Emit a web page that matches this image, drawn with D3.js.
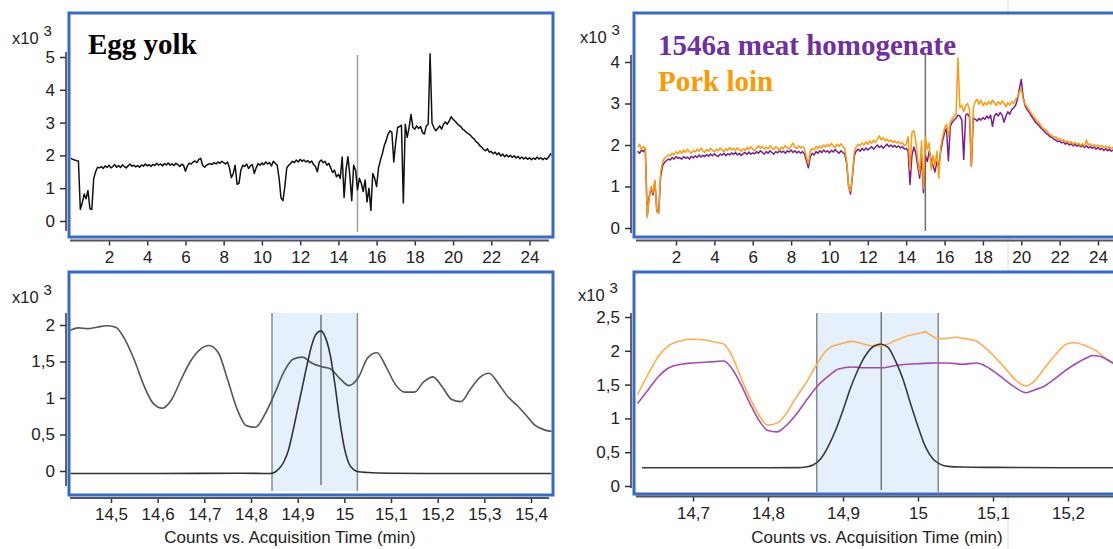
<!DOCTYPE html>
<html>
<head>
<meta charset="utf-8">
<script src="https://cdn.jsdelivr.net/npm/d3@7"></script>
<style>
  body { margin: 0; background: #ffffff; }
  svg { display: block; font-family: "Liberation Sans", Arial, sans-serif; }
</style>
</head>
<body>
<svg id="chart" width="1113" height="549"></svg>
<script>
// ---------- Full-run chromatograms (x10^3 counts), sampled every 0.1 min from 0 min ----------
const fullRunStep = 0.1;

const eggYolk = [
  1.92,1.88,1.86,1.84,1.83,0.36,0.55,0.82,0.68,0.93,
  0.38,0.35,1.30,1.50,1.64,1.62,1.66,1.60,1.68,1.63,
  1.70,1.62,1.66,1.72,1.64,1.69,1.63,1.71,1.66,1.62,
  1.68,1.74,1.67,1.70,1.65,1.69,1.64,1.71,1.67,1.74,
  1.68,1.72,1.66,1.73,1.69,1.76,1.70,1.74,1.68,1.75,
  1.71,1.77,1.70,1.74,1.69,1.76,1.72,1.66,1.73,1.70,
  1.52,1.68,1.76,1.74,1.80,1.83,1.78,1.88,1.91,1.70,
  1.64,1.70,1.73,1.75,1.72,1.78,1.74,1.80,1.76,1.82,
  1.78,1.74,1.80,1.62,1.32,1.45,1.70,1.12,1.15,1.55,
  1.70,1.66,1.74,1.60,1.68,1.72,1.45,1.62,1.75,1.70,
  1.77,1.72,1.80,1.74,1.78,1.68,1.82,1.76,1.70,1.30,
  0.70,0.62,1.05,1.62,1.70,1.75,1.82,1.78,1.86,1.80,
  1.88,1.82,1.86,1.80,1.84,1.78,1.83,1.72,1.66,1.50,
  1.80,1.86,1.78,1.82,1.70,1.76,1.62,1.48,1.55,1.35,
  1.42,1.30,1.95,0.72,1.55,1.96,1.40,0.62,1.70,1.55,
  0.95,1.30,1.15,0.90,1.25,0.58,1.00,0.32,1.45,1.30,
  1.05,1.62,1.85,2.05,2.30,2.45,2.65,2.75,2.70,1.80,
  2.40,2.85,2.88,2.92,0.55,2.95,2.55,2.85,3.25,2.85,
  2.80,2.90,2.82,2.88,2.70,2.65,2.90,2.95,5.10,2.98,
  2.85,2.75,2.82,2.90,2.80,2.95,3.02,2.95,3.05,3.18,
  3.10,3.05,2.98,2.92,2.88,2.80,2.76,2.70,2.66,2.62,
  2.55,2.50,2.42,2.38,2.30,2.25,2.18,2.14,2.20,2.10,
  2.12,2.05,2.10,2.02,2.08,1.98,2.04,1.96,2.02,1.95,
  2.00,1.94,1.99,1.92,1.97,1.90,1.95,1.89,1.94,1.88,
  1.93,1.87,1.92,1.88,1.95,1.89,1.93,1.87,1.92,1.88,
  1.95,2.05,1.98
];

const meatHomogenate = [
  1.85,1.80,1.88,1.84,1.90,0.30,0.75,0.95,0.80,1.12,
  0.42,0.40,1.25,1.50,1.58,1.62,1.66,1.64,1.70,1.66,
  1.72,1.68,1.70,1.66,1.72,1.68,1.71,1.66,1.73,1.69,
  1.74,1.70,1.76,1.71,1.75,1.72,1.77,1.73,1.78,1.74,
  1.79,1.75,1.72,1.78,1.76,1.80,1.74,1.79,1.76,1.81,
  1.77,1.82,1.76,1.80,1.75,1.79,1.82,1.77,1.83,1.78,
  1.81,1.79,1.84,1.80,1.86,1.82,1.78,1.84,1.80,1.86,
  1.82,1.78,1.84,1.81,1.87,1.82,1.85,1.80,1.86,1.83,
  1.88,1.82,1.86,1.81,1.85,1.80,1.84,1.78,1.62,1.45,
  1.72,1.80,1.76,1.84,1.80,1.86,1.82,1.88,1.83,1.86,
  1.81,1.87,1.83,1.89,1.84,1.80,1.86,1.82,1.78,1.55,
  1.00,0.82,1.25,1.75,1.86,1.90,1.85,1.92,1.87,1.93,
  1.88,1.92,1.96,1.90,1.95,2.00,1.94,1.98,1.92,1.97,
  2.02,1.96,2.00,1.95,1.99,1.94,1.98,1.93,1.96,1.90,
  1.92,1.85,1.05,1.75,1.95,1.80,1.50,1.20,1.70,0.85,
  1.75,1.60,1.85,1.65,1.50,1.35,1.60,1.50,1.85,2.10,
  2.30,2.40,1.62,2.45,2.55,2.60,2.65,2.72,2.70,2.60,
  1.65,2.72,2.75,2.68,1.50,2.65,2.62,2.58,2.64,2.60,
  2.66,2.62,2.70,2.64,2.72,2.45,2.70,2.76,2.70,2.78,
  2.72,2.55,2.70,2.80,2.74,2.85,2.90,2.95,3.10,3.35,
  3.58,3.15,2.95,2.85,2.80,2.72,2.65,2.58,2.52,2.48,
  2.42,2.38,2.33,2.28,2.25,2.20,2.18,2.14,2.12,2.08,
  2.10,2.05,2.07,2.02,2.05,2.00,2.03,1.98,2.02,1.97,
  2.00,1.96,1.99,1.94,1.98,1.93,1.96,1.92,1.95,1.90,
  1.94,1.89,1.92,1.87,1.91,1.86,1.90,1.85,1.88,1.84,
  1.87
];

const porkLoin = [
  1.95,2.02,1.90,1.96,1.92,0.25,0.70,1.00,0.85,1.15,
  0.38,0.35,1.35,1.58,1.68,1.72,1.76,1.74,1.80,1.77,
  1.84,1.79,1.86,1.80,1.88,1.82,1.90,1.84,1.80,1.87,
  1.83,1.90,1.85,1.92,1.86,1.82,1.89,1.85,1.92,1.87,
  1.84,1.90,1.86,1.93,1.88,1.84,1.91,1.87,1.94,1.88,
  1.92,1.86,1.93,1.89,1.85,1.91,1.87,1.94,1.89,1.96,
  1.90,1.86,1.93,1.98,1.92,1.96,1.90,1.95,1.91,1.98,
  1.93,1.89,1.96,1.92,1.88,1.95,1.91,1.99,1.94,1.90,
  1.97,2.05,1.95,1.92,1.98,1.93,1.96,1.90,1.70,1.55,
  1.85,1.92,1.88,1.96,1.91,1.98,1.93,2.00,1.95,2.02,
  1.96,2.04,1.98,1.94,2.02,1.97,2.03,1.96,1.92,1.60,
  1.00,0.88,1.30,1.85,1.96,2.02,1.98,2.05,2.00,2.08,
  2.02,2.10,2.04,2.12,2.06,2.15,2.22,2.12,2.18,2.10,
  2.14,2.08,2.12,2.06,2.10,2.05,2.08,2.03,2.06,1.98,
  2.02,2.20,1.40,2.30,2.35,2.10,1.65,1.30,2.10,0.95,
  2.20,1.90,2.05,1.40,1.75,1.50,1.85,1.20,1.95,2.20,
  2.40,2.50,2.20,2.55,2.62,2.70,2.75,4.10,2.90,2.95,
  2.80,2.95,3.00,2.85,1.48,2.90,3.05,3.10,2.98,3.08,
  2.95,3.02,2.96,3.05,2.98,3.08,3.02,2.95,3.05,2.98,
  3.06,3.00,2.92,3.02,2.96,3.05,3.00,3.10,3.15,3.28,
  3.35,3.10,2.98,2.92,2.85,2.78,2.72,2.66,2.58,2.55,
  2.48,2.42,2.38,2.35,2.30,2.26,2.22,2.18,2.20,2.14,
  2.16,2.10,2.13,2.07,2.10,2.05,2.08,2.02,2.06,2.01,
  2.04,1.99,2.03,1.98,2.12,2.00,2.03,1.97,2.01,1.96,
  2.00,1.95,1.99,1.94,1.97,1.92,1.96,1.91,1.95,1.90,
  1.93
];

// ---------- Zoomed windows around 14.95 min (x10^3 counts) ----------
const eggTicTimes = [14.41,14.43,14.45,14.47,14.49,14.51,14.53,14.55,14.57,14.59,14.61,14.63,14.65,14.67,14.69,
  14.71,14.73,14.75,14.77,14.79,14.81,14.83,14.85,14.87,14.89,14.91,14.93,14.95,14.97,14.99,15.01,15.03,15.05,
  15.07,15.09,15.11,15.13,15.15,15.17,15.19,15.21,15.23,15.25,15.27,15.29,15.31,15.33,15.35,15.37,15.39,15.41,15.43,15.45];
const eggTicValues = [1.92,1.96,1.95,1.97,1.99,1.97,1.80,1.52,1.18,0.93,0.86,0.98,1.25,1.50,1.66,
  1.72,1.62,1.25,0.85,0.62,0.60,0.78,1.05,1.35,1.53,1.56,1.48,1.43,1.40,1.27,1.17,1.28,1.55,
  1.62,1.42,1.18,1.08,1.08,1.22,1.29,1.15,0.98,0.95,1.12,1.28,1.34,1.20,1.02,0.90,0.76,0.62,0.56,0.54];

const eggPeakTimes = [14.41,14.60,14.78,14.84,14.85,14.86,14.87,14.88,14.89,14.90,14.91,14.92,14.93,14.94,
  14.95,14.96,14.97,14.98,14.99,15.00,15.01,15.02,15.03,15.05,15.10,15.20,15.45];
const eggPeakValues = [-0.035,-0.035,-0.030,-0.035,-0.020,0.030,0.120,0.280,0.550,0.850,1.150,1.450,1.720,1.880,
  1.920,1.820,1.580,1.180,0.700,0.320,0.100,0.020,-0.010,-0.020,-0.030,-0.035,-0.035];

const porkZoomTimes = [14.626,14.640,14.654,14.668,14.684,14.700,14.715,14.729,14.741,14.753,14.764,14.776,14.788,
  14.800,14.812,14.823,14.837,14.852,14.866,14.880,14.896,14.913,14.927,14.941,14.955,14.969,14.986,15.002,15.009,
  15.016,15.026,15.035,15.049,15.063,15.078,15.089,15.103,15.118,15.132,15.144,15.155,15.169,15.184,15.198,15.209,
  15.224,15.238,15.249,15.260,15.275];
const porkZoomValues = [1.35,1.65,1.92,2.08,2.15,2.17,2.16,2.13,2.10,1.90,1.60,1.30,1.05,
  0.90,0.93,1.05,1.30,1.55,1.82,2.03,2.10,2.14,2.10,2.07,2.08,2.15,2.22,2.26,2.28,
  2.24,2.18,2.18,2.20,2.18,2.14,2.05,1.90,1.72,1.55,1.48,1.55,1.75,1.95,2.10,2.12,
  2.07,2.00,1.90,1.82,1.72];

const meatZoomTimes = [14.626,14.640,14.654,14.668,14.684,14.700,14.715,14.729,14.741,14.753,14.764,14.776,14.788,
  14.800,14.812,14.823,14.837,14.852,14.866,14.880,14.894,14.913,14.927,14.941,14.955,14.969,14.986,15.002,15.021,
  15.040,15.059,15.078,15.089,15.103,15.118,15.132,15.144,15.155,15.169,15.184,15.198,15.212,15.226,15.233,15.242,
  15.260,15.280];
const meatZoomValues = [1.22,1.42,1.62,1.75,1.80,1.82,1.83,1.84,1.85,1.72,1.50,1.22,0.97,
  0.82,0.80,0.88,1.05,1.28,1.48,1.62,1.73,1.76,1.75,1.75,1.75,1.78,1.80,1.81,1.82,
  1.82,1.80,1.82,1.78,1.68,1.55,1.44,1.38,1.42,1.48,1.60,1.72,1.82,1.90,1.93,1.92,
  1.82,1.72];

const meatPeakTimes = [14.632,14.700,14.800,14.840,14.850,14.860,14.870,14.880,14.890,14.900,14.910,14.920,14.930,
  14.940,14.950,14.960,14.970,14.980,14.990,15.000,15.010,15.020,15.030,15.040,15.060,15.100,15.200,15.280];
const meatPeakValues = [0.270,0.270,0.270,0.272,0.280,0.310,0.400,0.580,0.820,1.120,1.450,1.720,1.930,
  2.060,2.100,2.050,1.850,1.580,1.220,0.880,0.580,0.400,0.320,0.290,0.280,0.275,0.270,0.270];

// Integration window and apex marker (min)
const eggWindow = [14.845, 15.028];
const eggApex = 14.95;
const meatWindow = [14.865, 15.027];
const meatApex = 14.951;
const fullRunMarker = 15.0;

// Tick values
const fullTicksX = [2,4,6,8,10,12,14,16,18,20,22,24];
const eggTicksY = [0,1,2,3,4,5];
const meatTicksY = [0,1,2,3,4];
const eggZoomTicksX = [14.5,14.6,14.7,14.8,14.9,15.0,15.1,15.2,15.3,15.4];
const eggZoomTicksY = [0,0.5,1,1.5,2];
const meatZoomTicksX = [14.7,14.8,14.9,15.0,15.1,15.2];
const meatZoomTicksY = [0,0.5,1,1.5,2,2.5];

// ---------- drawing ----------
const svg = d3.select("#chart");
const defs = svg.append("defs");
const fmt = d => String(d).replace(".", ",");
const BLUE = "#3569cf";

const toPoints = (times, values) => times.map((t, i) => ({ t, v: values[i] }));
const gridPoints = values => values.map((v, i) => ({ t: +(i * fullRunStep).toFixed(2), v }));

// faint divider between the two columns
[[0, 12], [238, 272], [497, 549]].forEach(([a, b]) => {
  svg.append("line").attr("x1", 1008).attr("x2", 1008).attr("y1", a).attr("y2", b)
    .attr("stroke", "#dedede").attr("stroke-width", 1);
});

function drawPanel(p) {
  const g = svg.append("g");
  const [bx0, by0, bx1, by1] = p.box;
  const x = d3.scaleLinear().domain(p.xRef).range(p.xPix);
  const y = d3.scaleLinear().domain(p.yRef).range(p.yPix);

  defs.append("clipPath").attr("id", "clip-" + p.id)
    .append("rect").attr("x", bx0 + 1.5).attr("y", by0 + 1.5)
    .attr("width", bx1 - bx0 - 3).attr("height", by1 - by0 - 3);
  const inner = g.append("g").attr("clip-path", `url(#clip-${p.id})`);

  if (p.window) {
    const [w0, w1] = p.window;
    inner.append("rect")
      .attr("x", x(w0)).attr("width", x(w1) - x(w0))
      .attr("y", p.windowY[0]).attr("height", p.windowY[1] - p.windowY[0])
      .attr("fill", "#e4f0fc");
    [w0, w1].forEach(w => inner.append("line")
      .attr("x1", x(w)).attr("x2", x(w)).attr("y1", p.windowY[0]).attr("y2", p.windowY[1])
      .attr("stroke", "#8a8a8a").attr("stroke-width", 1.5));
  }
  if (p.marker !== undefined) {
    inner.append("line")
      .attr("x1", x(p.marker)).attr("x2", x(p.marker))
      .attr("y1", p.markerY[0]).attr("y2", p.markerY[1])
      .attr("stroke", p.markerColor).attr("stroke-width", 1.5);
  }

  p.series.forEach(s => {
    const line = d3.line().x(d => x(d.t)).y(d => y(d.v))
      .curve(s.smooth ? d3.curveMonotoneX : d3.curveLinear);
    inner.append("path").datum(s.points)
      .attr("fill", "none").attr("stroke", s.color)
      .attr("stroke-width", s.width).attr("stroke-linejoin", "round")
      .attr("d", line);
  });

  // highlighted plot frame
  g.append("rect").attr("x", bx0).attr("y", by0)
    .attr("width", bx1 - bx0).attr("height", by1 - by0)
    .attr("fill", "none").attr("stroke", BLUE).attr("stroke-width", 3);

  // y axis
  const ya = g.append("g").attr("transform", `translate(${p.yAxisX},0)`)
    .call(d3.axisLeft(y).tickValues(p.yTicks).tickSize(6).tickPadding(5).tickFormat(fmt));
  ya.select(".domain").remove();
  ya.append("line").attr("x1", 0).attr("x2", 0).attr("y1", p.yAxisSpan[0]).attr("y2", p.yAxisSpan[1])
    .attr("stroke", "#333").attr("stroke-width", 1.5);
  ya.selectAll(".tick line").attr("stroke", "#333").attr("stroke-width", 1.5);
  ya.selectAll(".tick text").attr("fill", "#222").style("font-size", "17px")
    .style("font-family", "'Liberation Sans', Arial, sans-serif");

  // x axis
  const xa = g.append("g").attr("transform", `translate(0,${p.xAxisY})`)
    .call(d3.axisBottom(x).tickValues(p.xTicks).tickSize(5).tickPadding(5).tickFormat(fmt));
  xa.select(".domain").remove();
  xa.append("line").attr("x1", p.xAxisSpan[0]).attr("x2", p.xAxisSpan[1]).attr("y1", 0).attr("y2", 0)
    .attr("stroke", "#555").attr("stroke-width", 2);
  xa.selectAll(".tick line").attr("stroke", "#333").attr("stroke-width", 1.5);
  xa.selectAll(".tick text").attr("fill", "#222").style("font-size", "17px")
    .style("font-family", "'Liberation Sans', Arial, sans-serif");

  // scale exponent label
  const ex = g.append("text").attr("x", p.expPos[0]).attr("y", p.expPos[1])
    .attr("fill", "#222").style("font-size", "16.5px").text("x10");
  ex.append("tspan").attr("dx", 5).attr("dy", -8).style("font-size", "15px").text("3");

  if (p.xTitle) {
    g.append("text").attr("x", p.xTitle[0]).attr("y", p.xTitle[1])
      .attr("text-anchor", "middle").attr("fill", "#222").style("font-size", "17px")
      .text("Counts vs. Acquisition Time (min)");
  }
  (p.labels || []).forEach(l => {
    g.append("text").attr("x", l.x).attr("y", l.y).attr("fill", l.color)
      .style("font-family", "'Liberation Serif', 'Times New Roman', serif")
      .style("font-weight", "bold").style("font-size", "29px").text(l.text);
  });
}

// Egg yolk, full run
drawPanel({
  id: "egg-full", box: [69, 13, 553, 237],
  xRef: [2, 24], xPix: [109, 529.5], yRef: [0, 5], yPix: [221, 57],
  xTicks: fullTicksX, yTicks: eggTicksY,
  yAxisX: 66, yAxisSpan: [52, 231], xAxisY: 240.5, xAxisSpan: [70, 549],
  expPos: [12, 44],
  marker: fullRunMarker, markerY: [55, 232], markerColor: "#a0a0a0",
  series: [{ points: gridPoints(eggYolk), color: "#111", width: 1.5 }],
  labels: [{ text: "Egg yolk", x: 88, y: 54, color: "#000" }]
});

// Meat homogenate and pork loin, full run
drawPanel({
  id: "meat-full", box: [634, 13, 1140, 237],
  xRef: [2, 24], xPix: [676, 1098], yRef: [0, 4], yPix: [228, 62],
  xTicks: fullTicksX, yTicks: meatTicksY,
  yAxisX: 631, yAxisSpan: [55, 233], xAxisY: 240.5, xAxisSpan: [636, 1113],
  expPos: [580, 43],
  marker: fullRunMarker, markerY: [55, 231], markerColor: "#707070",
  series: [
    { points: gridPoints(meatHomogenate), color: "#7a1d8e", width: 1.5 },
    { points: gridPoints(porkLoin), color: "#ff9a0a", width: 1.5 }
  ],
  labels: [
    { text: "1546a meat homogenate", x: 658, y: 55, color: "#7030a0" },
    { text: "Pork loin", x: 658, y: 91, color: "#ff9900" }
  ]
});

// Egg yolk, zoom around the target peak
drawPanel({
  id: "egg-zoom", box: [69, 272, 553, 495],
  xRef: [14.5, 15.4], xPix: [111, 531], yRef: [0, 2], yPix: [471, 325],
  xTicks: eggZoomTicksX, yTicks: eggZoomTicksY,
  yAxisX: 66, yAxisSpan: [313, 486], xAxisY: 498, xAxisSpan: [70, 549],
  expPos: [12, 303], xTitle: [290, 543],
  window: eggWindow, windowY: [313, 491],
  marker: eggApex, markerY: [315, 485], markerColor: "#777",
  series: [
    { points: toPoints(eggTicTimes, eggTicValues), color: "#555", width: 1.6, smooth: true },
    { points: toPoints(eggPeakTimes, eggPeakValues), color: "#333", width: 1.6, smooth: true }
  ]
});

// Meat homogenate and pork loin, zoom around the target peak
drawPanel({
  id: "meat-zoom", box: [634, 272, 1140, 494],
  xRef: [14.7, 15.2], xPix: [693, 1068], yRef: [0, 2.5], yPix: [486, 317],
  xTicks: meatZoomTicksX, yTicks: meatZoomTicksY,
  yAxisX: 631, yAxisSpan: [313, 488], xAxisY: 496.5, xAxisSpan: [636, 1113],
  expPos: [578, 301], xTitle: [877, 543],
  window: meatWindow, windowY: [313, 492],
  marker: meatApex, markerY: [312, 490], markerColor: "#777",
  series: [
    { points: toPoints(porkZoomTimes, porkZoomValues), color: "#ffae4a", width: 1.6, smooth: true },
    { points: toPoints(meatZoomTimes, meatZoomValues), color: "#a54ab5", width: 1.6, smooth: true },
    { points: toPoints(meatPeakTimes, meatPeakValues), color: "#3a3a3a", width: 1.6, smooth: true }
  ]
});
</script>
</body>
</html>
